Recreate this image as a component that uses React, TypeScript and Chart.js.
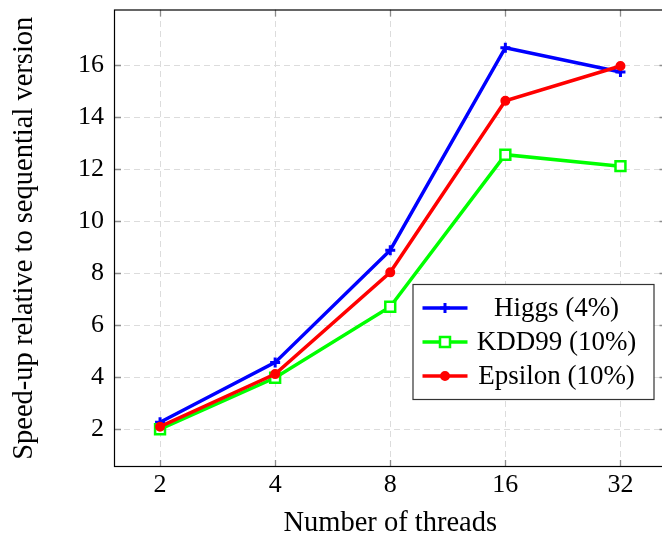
import React, { useEffect, useRef } from "react";
import { Chart, registerables } from "chart.js";

Chart.register(...registerables);

const threadLabels = ["2", "4", "8", "16", "32"];
const higgs = [2.27, 4.57, 8.88, 16.66, 15.73];
const kdd99 = [2.0, 3.98, 6.71, 12.55, 12.11];
const epsilon = [2.1, 4.12, 8.03, 14.62, 15.96];
const yTickValues = [2, 4, 6, 8, 10, 12, 14, 16];
const seriesNames = ["Higgs (4%)", "KDD99 (10%)", "Epsilon (10%)"];
const xTitle = "Number of threads";
const yTitle = "Speed-up relative to sequential version";

const BLUE = "#0000ff";
const GREEN = "#00ff00";
const RED = "#ff0000";
const FONT = "'Liberation Serif', 'Times New Roman', serif";

const toPoints = (arr: number[]) => arr.map((v, i) => ({ x: i, y: v }));

function drawMarker(ctx: CanvasRenderingContext2D, kind: string, x: number, y: number, color: string) {
  ctx.save();
  ctx.strokeStyle = color;
  ctx.fillStyle = color;
  ctx.setLineDash([]);
  if (kind === "plus") {
    ctx.lineWidth = 3;
    ctx.beginPath();
    ctx.moveTo(x - 5, y);
    ctx.lineTo(x + 5, y);
    ctx.moveTo(x, y - 5);
    ctx.lineTo(x, y + 5);
    ctx.stroke();
  } else if (kind === "square") {
    ctx.lineWidth = 2.5;
    ctx.fillStyle = "#ffffff";
    ctx.beginPath();
    ctx.rect(x - 5, y - 5, 10, 10);
    ctx.fill();
    ctx.stroke();
  } else {
    ctx.lineWidth = 2;
    ctx.beginPath();
    ctx.arc(x, y, 4, 0, Math.PI * 2);
    ctx.fill();
    ctx.stroke();
  }
  ctx.restore();
}

const framePlugin = {
  id: "framePlugin",
  beforeDatasetsDraw(chart: any) {
    const { ctx, chartArea: a, scales } = chart;
    const xs = scales.x;
    const ys = scales.y;
    ctx.save();
    ctx.beginPath();
    ctx.rect(a.left, a.top, a.right - a.left, a.bottom - a.top);
    ctx.clip();
    ctx.strokeStyle = "#dcdcdc";
    ctx.lineWidth = 1;
    ctx.setLineDash([6, 4]);
    threadLabels.forEach((_, i) => {
      const px = Math.round(xs.getPixelForValue(i)) + 0.5;
      ctx.beginPath();
      ctx.moveTo(px, a.bottom);
      ctx.lineTo(px, a.top);
      ctx.stroke();
    });
    yTickValues.forEach((v) => {
      const py = Math.round(ys.getPixelForValue(v)) + 0.5;
      ctx.beginPath();
      ctx.moveTo(a.left, py);
      ctx.lineTo(a.right, py);
      ctx.stroke();
    });
    ctx.setLineDash([]);
    ctx.strokeStyle = "#8c8c8c";
    ctx.lineWidth = 1.3;
    const tl = 7;
    threadLabels.forEach((_, i) => {
      const px = Math.round(xs.getPixelForValue(i)) + 0.5;
      ctx.beginPath();
      ctx.moveTo(px, a.bottom);
      ctx.lineTo(px, a.bottom - tl);
      ctx.moveTo(px, a.top);
      ctx.lineTo(px, a.top + tl);
      ctx.stroke();
    });
    yTickValues.forEach((v) => {
      const py = Math.round(ys.getPixelForValue(v)) + 0.5;
      ctx.beginPath();
      ctx.moveTo(a.left, py);
      ctx.lineTo(a.left + tl, py);
      ctx.moveTo(a.right, py);
      ctx.lineTo(a.right - tl, py);
      ctx.stroke();
    });
    ctx.restore();
  },
  afterDatasetsDraw(chart: any) {
    const { ctx, chartArea: a } = chart;
    ctx.save();
    ctx.strokeStyle = "#000000";
    ctx.lineWidth = 1.2;
    ctx.strokeRect(a.left + 0.5, a.top + 0.5, a.right - a.left - 1, a.bottom - a.top - 1);

    // legend
    const bx = a.right - 254;
    const by = a.bottom - 183;
    const bw = 241;
    const bh = 115;
    ctx.fillStyle = "#ffffff";
    ctx.fillRect(bx, by, bw, bh);
    ctx.strokeStyle = "#333333";
    ctx.lineWidth = 1.2;
    ctx.strokeRect(bx + 0.5, by + 0.5, bw, bh);
    const colors = [BLUE, GREEN, RED];
    const kinds = ["plus", "square", "dot"];
    const rowsY = [by + 24, by + 58, by + 92];
    ctx.font = `27px ${FONT}`;
    ctx.textAlign = "center";
    ctx.textBaseline = "middle";
    seriesNames.forEach((name, i) => {
      const ry = rowsY[i];
      ctx.strokeStyle = colors[i];
      ctx.lineWidth = 3.5;
      ctx.beginPath();
      ctx.moveTo(bx + 10, ry);
      ctx.lineTo(bx + 55, ry);
      ctx.stroke();
      drawMarker(ctx, kinds[i], bx + 32.5, ry, colors[i]);
      ctx.fillStyle = "#000000";
      ctx.fillText(name, bx + 144, ry + 1);
    });
    ctx.restore();
  },
};

export default function App() {
  const ref = useRef<HTMLCanvasElement | null>(null);
  useEffect(() => {
    if (!ref.current) return;
    const chart = new Chart(ref.current, {
      type: "line",
      data: {
        datasets: [
          {
            label: seriesNames[0],
            data: toPoints(higgs),
            borderColor: BLUE,
            backgroundColor: BLUE,
            borderWidth: 3.5,
            pointStyle: "cross",
            pointRadius: 5,
            pointBorderWidth: 3,
            pointBorderColor: BLUE,
            order: 3,
          },
          {
            label: seriesNames[1],
            data: toPoints(kdd99),
            borderColor: GREEN,
            backgroundColor: "#ffffff",
            borderWidth: 3.5,
            pointStyle: "rect",
            pointRadius: 7,
            pointBorderWidth: 2.5,
            pointBorderColor: GREEN,
            pointBackgroundColor: "#ffffff",
            order: 2,
          },
          {
            label: seriesNames[2],
            data: toPoints(epsilon),
            borderColor: RED,
            backgroundColor: RED,
            borderWidth: 3.5,
            pointStyle: "circle",
            pointRadius: 4,
            pointBorderWidth: 2,
            pointBorderColor: RED,
            pointBackgroundColor: RED,
            order: 1,
          },
        ],
      },
      options: {
        responsive: false,
        animation: false,
        events: [],
        layout: { padding: { top: 8, right: 4, left: 0, bottom: 0 } },
        plugins: {
          legend: { display: false },
          tooltip: { enabled: false },
        },
        scales: {
          x: {
            type: "linear",
            min: -0.4,
            max: 4.4,
            afterBuildTicks: (s: any) => {
              s.ticks = threadLabels.map((_, i) => ({ value: i }));
            },
            afterFit: (s: any) => {
              s.height = 71;
              s.paddingLeft = 0;
              s.paddingRight = 0;
            },
            grid: { display: false, drawTicks: false },
            border: { display: false },
            ticks: {
              color: "#000",
              padding: 3,
              maxRotation: 0,
              autoSkip: false,
              font: { family: FONT, size: 26 },
              callback: (v: any) => threadLabels[Math.round(Number(v))] ?? "",
            },
            title: {
              display: true,
              text: xTitle,
              color: "#000",
              font: { family: FONT, size: 28.5, lineHeight: 1 },
              padding: { top: 0, bottom: 0 },
            },
          },
          y: {
            type: "linear",
            min: 0.55,
            max: 18.13,
            afterBuildTicks: (s: any) => {
              s.ticks = yTickValues.map((v) => ({ value: v }));
            },
            afterFit: (s: any) => {
              s.width = 114;
              s.paddingTop = 0;
              s.paddingBottom = 0;
            },
            grid: { display: false, drawTicks: false },
            border: { display: false },
            ticks: {
              color: "#000",
              padding: 10,
              autoSkip: false,
              font: { family: FONT, size: 26 },
              callback: (v: any) => String(v),
            },
            title: {
              display: true,
              text: yTitle,
              color: "#000",
              font: { family: FONT, size: 28.5, lineHeight: 1 },
              padding: { top: 10, bottom: 0 },
            },
          },
        },
      },
      plugins: [framePlugin],
    } as any);
    return () => chart.destroy();
  }, []);
  return (
    <div
      style={{
        position: "absolute",
        left: 0,
        top: 0,
        width: 662,
        height: 538,
        overflow: "hidden",
        background: "#fff",
      }}
    >
      <canvas ref={ref} width={676} height={538} style={{ display: "block" }} />
    </div>
  );
}
